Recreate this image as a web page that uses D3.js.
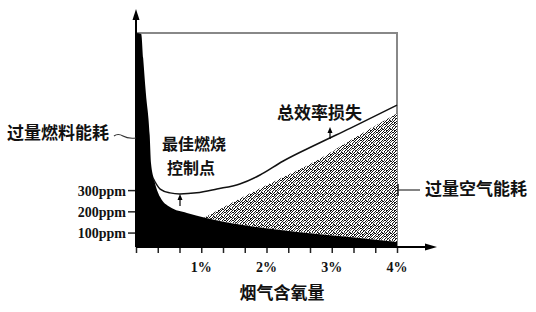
<!DOCTYPE html>
<html>
<head>
<meta charset="utf-8">
<script src="https://cdn.jsdelivr.net/npm/d3@7"></script>
<style>
    body { margin: 0; background: #fff; }
    .cjk { font-family: "Noto Sans CJK SC", sans-serif; font-weight: 700; font-size: 17px; fill: #111; }
    .num { font-family: "Liberation Serif", "Times New Roman", serif; font-weight: 700; font-size: 14px; fill: #111; }
</style>
</head>
<body>
<div id="chart"></div>
<script>

// oxygen content (%) vs loss (ppm scale)
const fuelO2 = [0, 0.08, 0.11, 0.15, 0.21, 0.23, 0.28, 0.37, 0.52, 0.78, 1.09, 1.44, 1.85, 2.51, 3.28, 4.0];
const fuelLoss = [1040, 1035, 921, 761, 558, 427, 347, 267, 220, 192, 168, 145, 126, 102, 79, 55];

const airO2 = [1.03, 1.75, 2.25, 2.77, 3.28, 4.0];
const airLoss = [168, 285, 360, 440, 534, 661];

const totalO2 = [0.26, 0.37, 0.52, 0.67, 0.93, 1.24, 1.59, 1.90, 2.25, 2.77, 3.28, 4.0];
const totalLoss = [357, 305, 287, 282, 287, 305, 329, 371, 436, 516, 591, 700];

const xTicks = [1, 2, 3, 4];
const yTicks = [100, 200, 300];

const labels = {
    fuel: "过量燃料能耗",
    best1: "最佳燃烧",
    best2: "控制点",
    total: "总效率损失",
    air: "过量空气能耗",
    xTitle: "烟气含氧量"
};

let width = 536, height = 312;

let svg = d3.select("#chart").append("svg")
    .attr("width", width)
    .attr("height", height);

let x = d3.scaleLinear().domain([0, 4]).range([136, 397]);
let y = d3.scaleLinear().domain([32, 1040]).range([247, 33]);

// speckled pattern for excess air loss
let defs = svg.append("defs");
let pat = defs.append("pattern")
    .attr("id", "hatch")
    .attr("patternUnits", "userSpaceOnUse")
    .attr("width", 8).attr("height", 8);
pat.append("rect").attr("width", 8).attr("height", 8).attr("fill", "#fff");
let tile = [
    "10100110",
    "01001011",
    "10110100",
    "00101001",
    "11010010",
    "00100101",
    "01011010",
    "10010100"
];
tile.forEach(function (row, j) {
    row.split("").forEach(function (c, i) {
        if (c === "1") {
            pat.append("rect").attr("x", i).attr("y", j).attr("width", 1).attr("height", 1)
                .attr("fill", (i + j) % 3 ? "#111" : "#555");
        }
    });
});

let fuelData = fuelO2.map((d, i) => ({o: d, v: fuelLoss[i]}));
let airData = airO2.map((d, i) => ({o: d, v: airLoss[i]}));
let totalData = totalO2.map((d, i) => ({o: d, v: totalLoss[i]}));

let fuelAt = d3.scaleLinear().domain(fuelO2).range(fuelLoss);

// frame
svg.append("path")
    .attr("d", "M" + x(0) + "," + y(1040) + "H" + x(4) + "V" + y(32))
    .attr("fill", "none")
    .attr("stroke", "#888")
    .attr("stroke-width", 2);

// excess air area
svg.append("path")
    .datum(airData)
    .attr("d", d3.area()
        .x(d => x(d.o))
        .y0(d => y(fuelAt(d.o)))
        .y1(d => y(d.v))
        .curve(d3.curveMonotoneX))
    .attr("fill", "url(#hatch)");

// excess fuel area
svg.append("path")
    .datum(fuelData)
    .attr("d", d3.area()
        .x(d => x(d.o))
        .y0(y(32))
        .y1(d => y(d.v))
        .curve(d3.curveMonotoneX))
    .attr("fill", "#000");

// total loss line
svg.append("path")
    .datum(totalData)
    .attr("d", d3.line().x(d => x(d.o)).y(d => y(d.v)).curve(d3.curveMonotoneX))
    .attr("fill", "none")
    .attr("stroke", "#111")
    .attr("stroke-width", 1.5);

// axes
let xAxis = svg.append("g")
    .attr("transform", "translate(0," + y(32) + ")")
    .call(d3.axisBottom(x).tickValues(d3.range(0, 13).map(i => i / 3)).tickFormat("").tickSize(6).tickSizeOuter(0));
xAxis.select(".domain").remove();
xAxis.selectAll("line").attr("stroke", "#222").attr("stroke-width", 1.5);

svg.append("g").selectAll("text")
    .data(xTicks)
    .enter().append("text")
    .attr("class", "num")
    .attr("x", d => x(d))
    .attr("y", 272)
    .attr("text-anchor", "middle")
    .text(d => d + "%");

let yAxis = svg.append("g")
    .attr("transform", "translate(" + x(0) + ",0)")
    .call(d3.axisLeft(y).tickValues(yTicks).tickFormat(d => d + "ppm").tickSize(8).tickPadding(2));
yAxis.select(".domain").remove();
yAxis.selectAll("line").attr("stroke", "#222").attr("stroke-width", 1.5);
yAxis.selectAll("text").attr("class", "num").attr("dy", "0.35em").attr("font-size", null).attr("font-family", null);

// axis lines with arrows
svg.append("line")
    .attr("x1", x(0)).attr("y1", y(32))
    .attr("x2", x(0)).attr("y2", 18)
    .attr("stroke", "#000").attr("stroke-width", 2);
svg.append("path")
    .attr("d", "M" + x(0) + ",9 l-3.5,11 h7 z")
    .attr("fill", "#000");
svg.append("line")
    .attr("x1", x(0)).attr("y1", y(32))
    .attr("x2", 428).attr("y2", y(32))
    .attr("stroke", "#000").attr("stroke-width", 2);
svg.append("path")
    .attr("d", "M437," + y(32) + " l-12,-3.5 v7 z")
    .attr("fill", "#000");

// small arrows
function upArrow(cx, y0, y1) {
    svg.append("line").attr("x1", cx).attr("x2", cx).attr("y1", y0).attr("y2", y1 + 4)
        .attr("stroke", "#000").attr("stroke-width", 1.2);
    svg.append("path").attr("d", "M" + cx + "," + y1 + " l-2.5,6 h5 z").attr("fill", "#000");
}
upArrow(180, 206, 194);
upArrow(330, 139, 127);

// leader lines
svg.append("path")
    .attr("d", "M114,136 q4,-3 9,0 t13,2")
    .attr("fill", "none").attr("stroke", "#333").attr("stroke-width", 1.2);
svg.append("line")
    .attr("x1", x(4)).attr("x2", 420).attr("y1", 190).attr("y2", 190)
    .attr("stroke", "#333").attr("stroke-width", 1.2);
svg.append("line")
    .attr("x1", x(4) + 1).attr("x2", x(4) + 1).attr("y1", 184).attr("y2", 196)
    .attr("stroke", "#222").attr("stroke-width", 1.5);

// text labels
svg.append("text").attr("class", "cjk").attr("x", 7).attr("y", 139).text(labels.fuel);
svg.append("text").attr("class", "cjk").attr("x", 162).attr("y", 150).style("font-size", "16px").text(labels.best1);
svg.append("text").attr("class", "cjk").attr("x", 167).attr("y", 174).style("font-size", "16px").text(labels.best2);
svg.append("text").attr("class", "cjk").attr("x", 277).attr("y", 119).text(labels.total);
svg.append("text").attr("class", "cjk").attr("x", 425).attr("y", 195).text(labels.air);
svg.append("text").attr("class", "cjk").attr("x", 282).attr("y", 299).attr("text-anchor", "middle").text(labels.xTitle);

</script>
</body>
</html>
